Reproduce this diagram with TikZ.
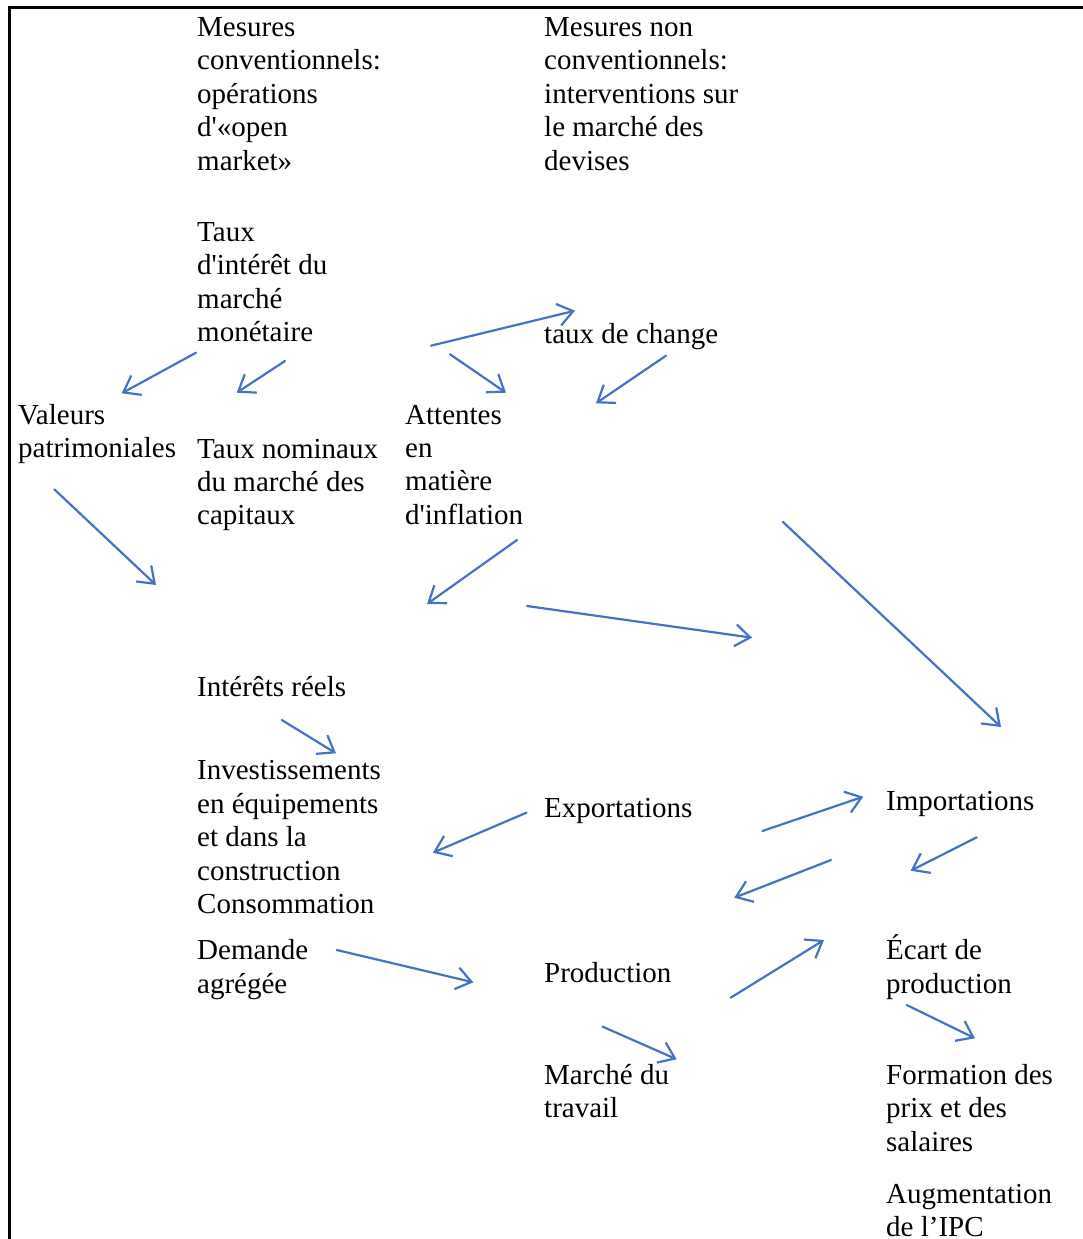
\documentclass[tikz,border=0pt]{standalone}
\usepackage{fontspec}
\setmainfont{Liberation Serif}[Ligatures=TeXOff]
\usetikzlibrary{arrows.meta}
\definecolor{arrowblue}{HTML}{4472C4}
\newcommand{\mlines}[1]{\begin{tabular}[t]{@{}l@{}}#1\end{tabular}}
\begin{document}
\begin{tikzpicture}[x=1pt,y=-1pt,
  lbl/.style={anchor=base west, inner sep=0pt, yshift=-1.5pt, font=\fontsize{29}{33.4}\selectfont},
  conn/.style={draw=arrowblue, line width=2.2pt, line cap=round,
    -{Straight Barb[length=15pt,width=22pt,line width=2.2pt]}},
  frame/.style={draw=black, line width=2.6pt}]
\useasboundingbox (0,0) rectangle (1083,1239);
\draw[frame] (9.7,1245) -- (9.7,7.8) -- (1090,7.8);

\node[lbl] (mconv) at (197,35) {\mlines{Mesures\\conventionnels:\\opérations\\d'«open\\market»}};
\node[lbl] (mnonconv) at (544,35) {\mlines{Mesures non\\conventionnels:\\interventions sur\\le marché des\\devises}};
\node[lbl] (tauxint) at (197,240) {\mlines{Taux\\d'intérêt du\\marché\\monétaire}};
\node[lbl] (change) at (544,342) {taux de change};
\node[lbl] (valeurs) at (18,422.5) {\mlines{Valeurs\\patrimoniales}};
\node[lbl] (nominaux) at (197,456.5) {\mlines{Taux nominaux\\du marché des\\capitaux}};
\node[lbl] (attentes) at (405,422.5) {\mlines{Attentes\\en\\matière\\d'inflation}};
\node[lbl] (reels) at (197,695) {Intérêts réels};
\node[lbl] (invest) at (197,778.3) {\mlines{Investissements\\en équipements\\et dans la\\construction\\Consommation}};
\node[lbl] (export) at (544,816) {Exportations};
\node[lbl] (import) at (886,809.3) {Importations};
\node[lbl] (demande) at (197,958.3) {\mlines{Demande\\agrégée}};
\node[lbl] (production) at (544,980.7) {Production};
\node[lbl] (ecart) at (886,958.3) {\mlines{Écart de\\production}};
\node[lbl] (travail) at (544,1083) {\mlines{Marché du\\travail}};
\node[lbl] (formation) at (886,1083) {\mlines{Formation des\\prix et des\\salaires}};
\node[lbl] (ipc) at (886,1201.7) {\mlines{Augmentation\\de l’IPC}};

\coordinate (s1) at (196,352.7);   \coordinate (e1) at (121.7,393.3);
\coordinate (s2) at (285,361);     \coordinate (e2) at (236.7,392.7);
\coordinate (s3) at (431,345.7);   \coordinate (e3) at (575,310.7);
\coordinate (s4) at (450,354.3);   \coordinate (e4) at (506,392.7);
\coordinate (s5) at (666,355.7);   \coordinate (e5) at (596,403.3);
\coordinate (s6) at (54.3,489.3);  \coordinate (e6) at (156,585);
\coordinate (s7) at (517,540);     \coordinate (e7) at (427,604);
\coordinate (s8) at (527,606);     \coordinate (e8) at (752,637.7);
\coordinate (s9) at (783,522);     \coordinate (e9) at (1001,727);
\coordinate (s10) at (281.8,720);  \coordinate (e10) at (336,753.3);
\coordinate (s11) at (526.4,812.7);\coordinate (e11) at (432.9,852.7);
\coordinate (s12) at (762.3,831);  \coordinate (e12) at (863.3,796.7);
\coordinate (s13) at (976.7,837.3);\coordinate (e13) at (910.7,870.7);
\coordinate (s14) at (831,860);    \coordinate (e14) at (734.3,897.7);
\coordinate (s15) at (336.7,950);  \coordinate (e15) at (473.3,982.3);
\coordinate (s16) at (730.7,997.7);\coordinate (e16) at (824,940);
\coordinate (s17) at (602.7,1026.7);\coordinate (e17) at (676.7,1059.3);
\coordinate (s18) at (906.7,1005); \coordinate (e18) at (975,1038.3);

\foreach \i in {1,...,18} {\draw[conn] (s\i) -- (e\i);}
\end{tikzpicture}
\end{document}
